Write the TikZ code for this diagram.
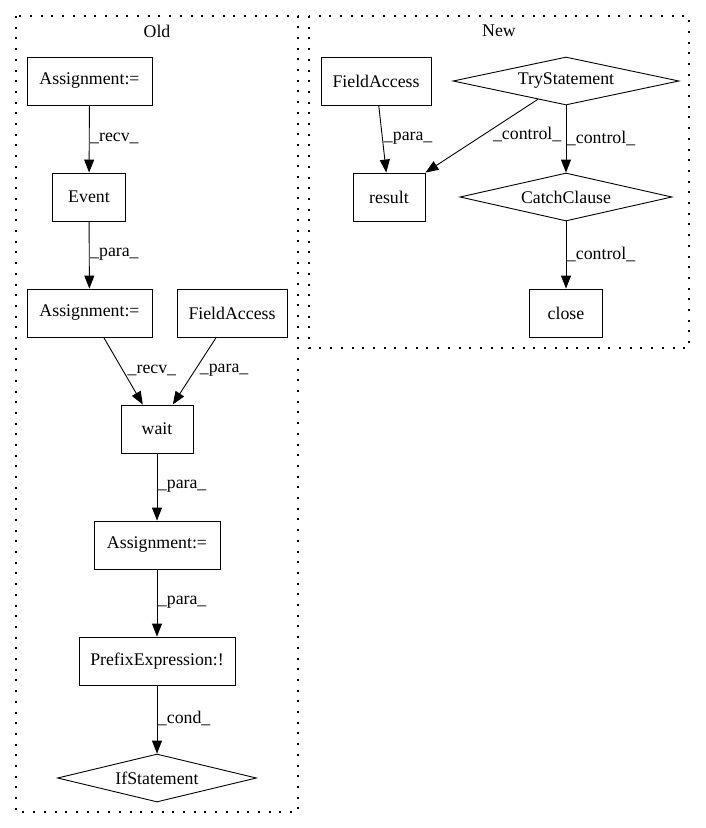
\documentclass[tikz,border=0pt]{standalone}
\usepackage{fontspec}
\setmainfont{Liberation Serif}
\usetikzlibrary{shapes.geometric,arrows.meta}
\begin{document}
\begin{tikzpicture}[x=1pt,y=-1pt,
  every node/.style={font=\fontsize{17.8}{20}\selectfont},
  box/.style={draw,line width=0.9pt,rectangle,minimum height=48pt,inner sep=0pt},
  dia/.style={draw,line width=0.9pt,diamond,aspect=4.5,minimum height=48pt,inner sep=0pt},
  edge/.style={draw,line width=0.9pt,-{Triangle[length=13pt,width=10pt]}},
  lab/.style={anchor=west,inner sep=0pt,fill=none},
  cluster/.style={draw,line width=1.1pt,dash pattern=on 2pt off 8.7pt}]
\useasboundingbox (0,0) rectangle (705,828);
% clusters
\draw[cluster] (16,16) rectangle (298,812);
\node (oldlab) at (157,31) {Old};
\draw[cluster] (309,16) rectangle (689,348);
\node (newlab) at (499,31) {New};
% Old nodes
\node[box,minimum width=125pt] (a1) at (89.5,81) {Assignment:=};
\node[box,minimum width=73pt] (ev) at (89,197) {Event};
\node[box,minimum width=125pt] (a2) at (89.5,313) {Assignment:=};
\node[box,minimum width=110pt] (fa1) at (232,313) {FieldAccess};
\node[box,minimum width=72pt] (wait) at (157,429) {wait};
\node[box,minimum width=126pt] (a3) at (157,545) {Assignment:=};
\node[box,minimum width=156pt] (pre) at (157,661) {PrefixExpression:!};
\node[dia,minimum width=199pt] (ifs) at (157,778) {IfStatement};
% New nodes
\node[box,minimum width=110pt] (fa2) at (376,81) {FieldAccess};
\node[dia,minimum width=226pt] (try) at (566,81) {TryStatement};
\node[box,minimum width=72pt] (res) at (389,197) {result};
\node[dia,minimum width=212pt] (catch) at (566,197) {CatchClause};
\node[box,minimum width=73pt] (close) at (566,313) {close};
% Old edges
\draw[edge] (a1) -- (ev) node[lab,pos=0.5,xshift=0.5pt,yshift=1pt] {\_recv\_};
\draw[edge] (ev) -- (a2) node[lab,pos=0.5,xshift=0.5pt,yshift=1pt] {\_para\_};
\draw[edge] (a2) -- (wait) node[lab,pos=0.5,xshift=4pt,yshift=1pt] {\_recv\_};
\draw[edge] (fa1) -- (wait) node[lab,pos=0.5,xshift=5pt,yshift=1pt] {\_para\_};
\draw[edge] (wait) -- (a3) node[lab,pos=0.5,xshift=0.5pt,yshift=1pt] {\_para\_};
\draw[edge] (a3) -- (pre) node[lab,pos=0.5,xshift=0.5pt,yshift=1pt] {\_para\_};
\draw[edge] (pre) -- (ifs) node[lab,pos=0.5,xshift=0.5pt,yshift=1pt] {\_cond\_};
% New edges
\draw[edge] (fa2) -- (res) node[lab,pos=0.5,xshift=1pt,yshift=1pt] {\_para\_};
\draw[edge] (try) -- (res.north east) node[lab,pos=0.5,xshift=11pt,yshift=1pt] {\_control\_};
\draw[edge] (try) -- (catch) node[lab,pos=0.5,xshift=0.5pt,yshift=1pt] {\_control\_};
\draw[edge] (catch) -- (close) node[lab,pos=0.5,xshift=0.5pt,yshift=1pt] {\_control\_};
\end{tikzpicture}
\end{document}
